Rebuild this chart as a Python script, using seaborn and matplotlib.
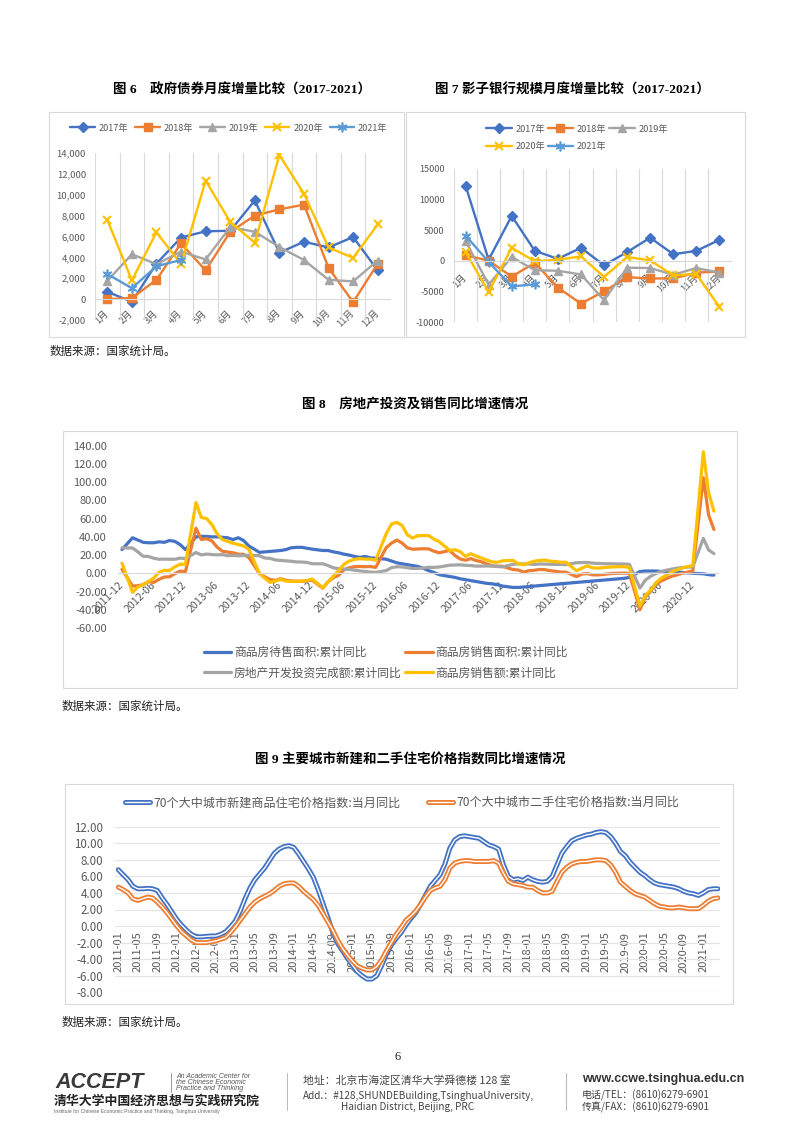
import numpy as np
import pandas as pd
import matplotlib
matplotlib.use('Agg')
import matplotlib.pyplot as plt
import matplotlib.patheffects as pe
from matplotlib.patches import Rectangle
from matplotlib.lines import Line2D
import seaborn as sns

# ---------------------------------------------------------------- data
MONTH_LABELS = ['1月', '2月', '3月', '4月', '5月', '6月', '7月', '8月', '9月', '10月', '11月', '12月']
YEAR_LABELS = ['2017年', '2018年', '2019年', '2020年', '2021年']

# Fig 6: government bonds monthly increment
bond_2017 = [700, -250, 3400, 5900, 6500, 6550, 9450, 4450, 5500, 4950, 5950, 2750]
bond_2018 = [0, 100, 1850, 5350, 2750, 6450, 8000, 8600, 9050, 3000, -300, 3400]
bond_2019 = [1750, 4300, 3350, 4550, 3800, 6900, 6450, 5000, 3750, 1850, 1700, 3700]
bond_2020 = [7600, 1800, 6400, 3350, 11350, 7400, 5400, 13800, 10100, 4950, 3950, 7150]
bond_2021 = [2400, 1050, 3150, 3750]

# Fig 7: shadow banking monthly increment
shadow_2017 = [12300, 200, 7350, 1650, 350, 2150, -700, 1450, 3800, 1100, 1650, 3450]
shadow_2018 = [950, 50, -2550, -300, -4350, -6950, -4950, -2650, -2850, -2850, -1900, -1700]
shadow_2019 = [3250, -3850, 650, -1500, -1600, -2200, -6400, -1100, -1150, -2250, -1150, -1900]
shadow_2020 = [1450, -5050, 2150, -50, 200, 750, -2600, 650, 100, -2350, -2150, -7500]
shadow_2021 = [4150, -150, -4150, -3800]

# Fig 8: real estate (cumulative YoY, %), months Feb-Dec each year
fig8_dates = (['2011-12'] + [f'{y}-{m:02d}' for y in range(2012, 2021) for m in range(2, 13)]
              + ['2021-02', '2021-03', '2021-04'])
unsold_area = [26,
    39, 36.5, 34, 33.5, 33.5, 34.5, 34, 36, 35, 31.5, 26,
    40, 40.5, 40.5, 40, 40, 39.5, 39, 37, 39, 36, 30,
    23, 23.5, 24, 24.5, 25, 26, 28, 28.5, 28.5, 27.5, 26.5,
    25, 25, 23.5, 22.5, 21, 20, 18.5, 17.5, 18.5, 17, 16.5,
    15.5, 13.5, 11.5, 10.5, 9.5, 8.5, 7.5, 5.5, 3, 1, -1.5,
    -3.5, -4.5, -6, -7, -8, -9, -10, -11, -11.5, -12.5, -14,
    -15.5, -15.5, -15, -14.5, -14, -13.5, -13, -12.5, -12, -11.5, -11,
    -10, -9.5, -9, -8.5, -8, -7.5, -7, -6.5, -6, -5.5, -4.5,
    2, 2.5, 2.5, 2.5, 2, 2, 1.5, 1.5, 1, 0.5, 0,
    -0.5, -1.5, -2]
sold_area = [4.4,
    -14.0, -13.6, -12.5, -9.2, -10.0, -6.6, -4.1, -3.8, -0.4, 2.4, 1.8,
    49.5, 37.1, 38.0, 35.6, 28.7, 24.2, 23.3, 22.6, 20.9, 20.8, 17.3,
    -0.1, -3.8, -6.8, -7.8, -6.0, -7.6, -8.3, -8.6, -8.9, -8.2, -7.6,
    -16.3, -9.2, -4.8, -2.1, 3.9, 6.1, 7.2, 7.5, 7.2, 7.4, 6.5,
    28.2, 33.1, 36.5, 33.2, 27.9, 26.4, 26.7, 26.9, 26.8, 24.3, 22.5,
    25.1, 19.5, 15.7, 14.3, 16.1, 14.0, 12.7, 10.3, 8.2, 7.9, 7.7,
    4.1, 3.6, 1.3, 2.9, 3.3, 4.2, 4.0, 2.9, 2.2, 1.4, 1.3,
    -3.6, -0.9, -0.3, -1.6, -1.8, -1.3, -0.6, -0.1, 0.1, 0.2, -0.1,
    -39.9, -26.3, -19.3, -12.3, -8.4, -5.8, -3.3, -1.8, 0.0, 1.3, 2.6,
    104.9, 63.8, 48.1]
dev_invest = [27.9,
    27.8, 23.5, 18.7, 18.5, 16.6, 15.4, 15.6, 15.4, 15.4, 16.7, 16.2,
    22.8, 20.2, 21.1, 20.6, 20.3, 20.5, 19.3, 19.7, 19.2, 19.5, 19.8,
    19.3, 16.8, 16.4, 14.7, 14.1, 13.7, 13.2, 12.5, 12.4, 11.9, 10.5,
    10.4, 8.5, 6.0, 5.1, 4.6, 4.3, 3.5, 2.6, 2.0, 1.3, 1.0,
    3.0, 6.2, 7.2, 7.0, 6.1, 5.3, 5.4, 5.8, 6.6, 6.5, 6.9,
    8.9, 9.1, 9.3, 8.8, 8.5, 7.9, 7.9, 8.1, 7.8, 7.5, 7.0,
    9.9, 10.4, 10.3, 10.2, 9.7, 10.2, 10.1, 9.9, 9.7, 9.7, 9.5,
    11.6, 11.8, 11.9, 11.2, 10.9, 10.6, 10.5, 10.5, 10.3, 10.2, 9.9,
    -16.3, -7.7, -3.3, -0.3, 1.9, 3.4, 4.6, 5.6, 6.3, 6.8, 7.0,
    38.3, 25.6, 21.6]
sales_value = [11.1,
    -20.9, -15.0, -12.6, -8.9, -5.2, 1.0, 3.3, 3.1, 7.1, 9.9, 10.0,
    77.6, 61.3, 60.1, 53.5, 43.2, 37.0, 35.0, 33.1, 31.5, 30.0, 26.3,
    -0.1, -5.2, -9.9, -8.5, -6.7, -8.5, -8.9, -8.9, -8.4, -7.8, -6.3,
    -15.8, -9.3, -3.1, 3.2, 10.0, 13.4, 15.3, 16.1, 15.6, 15.6, 14.4,
    43.6, 54.1, 55.9, 52.5, 42.1, 38.7, 41.3, 41.3, 41.5, 37.5, 34.8,
    25.1, 25.9, 23.7, 18.6, 21.5, 18.9, 16.8, 14.6, 12.6, 12.1, 13.7,
    14.2, 10.4, 9.3, 11.6, 13.2, 14.1, 14.5, 13.3, 13.0, 12.1, 12.2,
    2.8, 5.6, 8.1, 6.1, 5.6, 6.2, 6.7, 7.1, 7.3, 7.3, 6.5,
    -35.9, -24.7, -18.6, -10.6, -5.4, -2.1, 1.6, 3.7, 5.8, 7.2, 8.7,
    133.4, 88.5, 68.2]
fig8_series_labels = ['商品房待售面积:累计同比', '商品房销售面积:累计同比',
                      '房地产开发投资完成额:累计同比', '商品房销售额:累计同比']
fig8_ticklabels = ['2011-12', '2012-06', '2012-12', '2013-06', '2013-12', '2014-06', '2014-12',
                   '2015-06', '2015-12', '2016-06', '2016-12', '2017-06', '2017-12', '2018-06',
                   '2018-12', '2019-06', '2019-12', '2020-06', '2020-12']

# Fig 9: 70-city price indices, YoY (%), 2011-01 .. 2021-04
fig9_dates = pd.date_range('2011-01-01', '2021-04-01', freq='MS')
new_home = [
    6.8, 6.2, 5.6, 4.8, 4.5, 4.5, 4.55, 4.5, 4.3, 3.4, 2.6, 1.7,
    0.8, 0.1, -0.5, -1.0, -1.3, -1.3, -1.25, -1.2, -1.2, -1.0, -0.7, -0.1,
    0.6, 1.8, 3.3, 4.6, 5.6, 6.3, 7.0, 7.9, 8.8, 9.3, 9.6, 9.7,
    9.5, 8.7, 7.8, 6.9, 5.9, 4.4, 2.7, 1.0, -0.8, -2.1, -3.0, -3.9,
    -4.7, -5.5, -6.0, -6.4, -6.4, -6.0, -4.8, -3.4, -2.3, -1.5, -0.8, 0.1,
    0.9, 1.6, 2.6, 3.7, 4.8, 5.5, 6.2, 7.5, 9.4, 10.4, 10.8, 10.9,
    10.8, 10.7, 10.6, 10.2, 9.8, 9.6, 9.3, 7.4, 6.0, 5.6, 5.7, 5.5,
    5.9, 5.6, 5.4, 5.3, 5.4, 6.0, 7.4, 8.8, 9.6, 10.3, 10.6, 10.8,
    11.0, 11.1, 11.3, 11.4, 11.3, 10.8, 10.0, 9.0, 8.5, 7.7, 7.1, 6.5,
    6.1, 5.6, 5.2, 5.0, 4.9, 4.8, 4.7, 4.5, 4.2, 4.0, 3.9, 3.7,
    4.0, 4.4, 4.5, 4.5]
second_home = [
    4.7, 4.4, 4.0, 3.3, 3.1, 3.3, 3.5, 3.4, 2.9, 2.3, 1.6, 0.8,
    0.0, -0.7, -1.2, -1.7, -2.0, -2.0, -2.0, -1.9, -1.8, -1.6, -1.4, -0.8,
    -0.1, 0.7, 1.5, 2.3, 2.9, 3.3, 3.6, 3.9, 4.3, 4.8, 5.1, 5.2,
    5.2, 4.8, 4.2, 3.7, 3.2, 2.5, 1.5, 0.5, -0.5, -1.7, -2.7, -3.5,
    -4.2, -4.8, -5.1, -5.3, -5.3, -4.9, -4.1, -3.0, -2.0, -1.0, -0.2, 0.7,
    1.2, 1.8, 2.6, 3.5, 4.3, 4.6, 4.8, 5.6, 7.0, 7.6, 7.8, 7.9,
    7.9, 7.8, 7.8, 7.8, 7.8, 7.9, 7.6, 6.4, 5.4, 5.1, 5.0, 4.9,
    4.7, 4.7, 4.3, 4.0, 4.0, 4.2, 5.4, 6.5, 7.1, 7.5, 7.7, 7.8,
    7.8, 7.9, 8.0, 8.0, 7.9, 7.4, 6.5, 5.3, 4.8, 4.3, 3.9, 3.7,
    3.5, 3.1, 2.7, 2.4, 2.3, 2.2, 2.2, 2.3, 2.2, 2.1, 2.1, 2.1,
    2.5, 3.0, 3.3, 3.4]
fig9_series_labels = ['70个大中城市新建商品住宅价格指数:当月同比', '70个大中城市二手住宅价格指数:当月同比']

# ---------------------------------------------------------------- style
sns.set_style('white')
plt.rcParams['font.family'] = ['Noto Sans CJK SC', 'DejaVu Sans']
plt.rcParams['axes.unicode_minus'] = False

BLUE, ORANGE, GRAY, YELLOW, LBLUE = '#4472C4', '#ED7D31', '#A5A5A5', '#FFC000', '#5B9BD5'
TICK_C = '#595959'
GRID_C = '#D9D9D9'
TITLE_FAM = ['Liberation Serif', 'Noto Sans CJK SC']

W, H = 802, 1133
fig = plt.figure(figsize=(W / 100, H / 100), dpi=100, facecolor='white')


def fx(x):
    return x / W


def fy(y):
    return 1 - y / H


def add_ax(x0, y0, x1, y1):
    ax = fig.add_axes([fx(x0), fy(y1), (x1 - x0) / W, (y1 - y0) / H])
    ax.set_facecolor('none')
    return ax


def box(x0, y0, x1, y1):
    fig.add_artist(Rectangle((fx(x0), fy(y1)), (x1 - x0) / W, (y1 - y0) / H,
                             transform=fig.transFigure, fill=False, ec=GRID_C, lw=0.8))


def drop_legend(ax):
    if ax.get_legend() is not None:
        ax.get_legend().remove()


def style_month_axes(ax, ylim, yticks, ylabels, ysize, xsize, xpad, ypad):
    ax.set_xlim(-0.5, 11.5)
    ax.set_ylim(*ylim)
    for s in ['left', 'right', 'top']:
        ax.spines[s].set_visible(False)
    ax.spines['bottom'].set_position(('data', 0))
    ax.spines['bottom'].set_color(GRID_C)
    ax.spines['bottom'].set_linewidth(0.8)
    ax.set_xticks(range(12))
    ax.set_xticklabels(MONTH_LABELS, rotation=45, ha='right', va='center',
                       rotation_mode='anchor', fontsize=xsize, color=TICK_C)
    ax.set_xticks(np.arange(-0.5, 12, 1), minor=True)
    ax.grid(which='minor', axis='x', color=GRID_C, lw=0.8)
    ax.tick_params(axis='x', which='both', length=0, pad=xpad)
    ax.set_yticks(yticks)
    ax.set_yticklabels(ylabels, fontsize=ysize, color=TICK_C)
    ax.tick_params(axis='y', length=0, pad=ypad)
    ax.set_xlabel('')
    ax.set_ylabel('')


marker_styles = [
    dict(color=BLUE, marker='D', ms=5, mec=BLUE, mew=1),
    dict(color=ORANGE, marker='s', ms=6, mec=ORANGE, mew=1),
    dict(color=GRAY, marker='^', ms=6, mec=GRAY, mew=1),
    dict(color=YELLOW, marker='x', ms=6, mec=YELLOW, mew=1.5),
    dict(color=LBLUE, marker=(6, 2, 0), ms=7, mec=LBLUE, mew=1.2),
]

# ---------------------------------------------------------------- titles
fig.text(fx(242), fy(90), '图 6　政府债券月度增量比较（2017-2021）', family=TITLE_FAM,
         weight='bold', fontsize=9.7, ha='center', va='center', color='black')
fig.text(fx(572), fy(90), '图 7 影子银行规模月度增量比较（2017-2021）', family=TITLE_FAM,
         weight='bold', fontsize=9.7, ha='center', va='center', color='black')
fig.text(fx(415), fy(404), '图 8　房地产投资及销售同比增速情况', family=TITLE_FAM,
         weight='bold', fontsize=9.7, ha='center', va='center', color='black')
fig.text(fx(410), fy(760), '图 9 主要城市新建和二手住宅价格指数同比增速情况', family=TITLE_FAM,
         weight='bold', fontsize=9.7, ha='center', va='center', color='black')

for (sx, sy) in [(50, 351), (62, 706), (62, 1022)]:
    fig.text(fx(sx), fy(sy), '数据来源：国家统计局。', fontsize=8.3, style='italic',
             color='#222222', ha='left', va='center')

# ---------------------------------------------------------------- Fig 6
box(49, 112, 404, 337)
ax6 = add_ax(95, 153, 390, 320)
for vals, lab, st in zip([bond_2017, bond_2018, bond_2019, bond_2020, bond_2021], YEAR_LABELS, marker_styles):
    sns.lineplot(x=np.arange(len(vals)), y=vals, ax=ax6, lw=1.7, label=lab, **st)
drop_legend(ax6)
yt6 = list(range(-2000, 14001, 2000))
style_month_axes(ax6, (-2000, 14000), yt6, [f'{v:,}' for v in yt6], 6.8, 6.8, 9, 6.5)
h6, l6 = ax6.get_legend_handles_labels()
fig.legend(h6, l6, loc='center', bbox_to_anchor=(fx(229), fy(128)), ncol=5, frameon=False,
           fontsize=6.6, handlelength=2.7, handletextpad=0.4, columnspacing=0.75,
           labelcolor=TICK_C, borderpad=0)

# ---------------------------------------------------------------- Fig 7
box(406, 112, 745, 337)
ax7 = add_ax(454, 169, 731, 322.3)
for vals, lab, st in zip([shadow_2017, shadow_2018, shadow_2019, shadow_2020, shadow_2021], YEAR_LABELS, marker_styles):
    sns.lineplot(x=np.arange(len(vals)), y=vals, ax=ax7, lw=1.7, label=lab, **st)
drop_legend(ax7)
yt7 = list(range(-10000, 15001, 5000))
style_month_axes(ax7, (-10000, 15000), yt7, [str(v) for v in yt7], 6.6, 6.8, 11, 7)
h7, l7 = ax7.get_legend_handles_labels()
order7 = [0, 3, 1, 4, 2]
fig.legend([h7[i] for i in order7], [l7[i] for i in order7], loc='center',
           bbox_to_anchor=(fx(577), fy(138)), ncol=3, frameon=False, fontsize=6.6,
           handlelength=2.8, handletextpad=0.4, columnspacing=0.3, labelspacing=0.95,
           labelcolor=TICK_C, borderpad=0)

# ---------------------------------------------------------------- Fig 8
def month_offset(s, origin):
    y, m = map(int, s.split('-'))
    oy, om = map(int, origin.split('-'))
    return (y - oy) * 12 + (m - om)


t8 = np.array([month_offset(d, fig8_dates[0]) for d in fig8_dates])
box(63, 431, 737, 688)
ax8 = add_ax(118, 445.7, 718, 628)
for vals, lab, col in zip([unsold_area, sold_area, dev_invest, sales_value], fig8_series_labels,
                          [BLUE, ORANGE, GRAY, YELLOW]):
    sns.lineplot(x=t8, y=vals, ax=ax8, color=col, lw=2.3, label=lab)
drop_legend(ax8)
ax8.set_xlim((118 - 122) / 5.285, (718 - 122) / 5.285)
ax8.set_ylim(-60, 140)
for s in ['left', 'right', 'top']:
    ax8.spines[s].set_visible(False)
ax8.spines['bottom'].set_position(('data', 0))
ax8.spines['bottom'].set_color(GRID_C)
ax8.spines['bottom'].set_linewidth(0.9)
ax8.set_xticks([month_offset(s, fig8_dates[0]) for s in fig8_ticklabels])
ax8.set_xticklabels(fig8_ticklabels, rotation=45, ha='right', va='center',
                    rotation_mode='anchor', fontsize=7.6, color=TICK_C)
ax8.tick_params(axis='x', length=0, pad=7)
yt8 = list(range(-60, 141, 20))
ax8.set_yticks(yt8)
ax8.set_yticklabels([f'{v:.2f}' for v in yt8], fontsize=8, color=TICK_C)
ax8.tick_params(axis='y', length=0, pad=8)
ax8.set_xlabel('')
ax8.set_ylabel('')
h8, l8 = ax8.get_legend_handles_labels()
order8 = [0, 2, 1, 3]
fig.legend([h8[i] for i in order8], [l8[i] for i in order8], loc='center',
           bbox_to_anchor=(fx(386), fy(662.7)), ncol=2, frameon=False, fontsize=8.5,
           handlelength=2.3, handletextpad=0.25, columnspacing=0.3, labelspacing=0.65,
           labelcolor=TICK_C, borderpad=0)

# ---------------------------------------------------------------- Fig 9
m9 = np.array((fig9_dates.year - 2011) * 12 + fig9_dates.month - 1)
box(65, 784, 733, 1004)
ax9 = add_ax(115, 826.7, 720, 992.3)
h9 = []
for vals, lab, col in zip([new_home, second_home], fig9_series_labels, [BLUE, ORANGE]):
    effects = [pe.Stroke(linewidth=3.6, foreground=col), pe.Normal()]
    sns.lineplot(x=m9, y=vals, ax=ax9, color='white', lw=1.0, path_effects=effects)
    h9.append(Line2D([], [], color='white', lw=1.0, path_effects=effects))
drop_legend(ax9)
ax9.set_xlim((115 - 118.3) / 4.875, (720 - 118.3) / 4.875)
ax9.set_ylim(-8, 12)
for s in ['left', 'right', 'top', 'bottom']:
    ax9.spines[s].set_visible(False)
ax9.spines['bottom'].set_position(('data', 0))
yt9 = list(range(-8, 13, 2))
ax9.set_yticks(yt9)
ax9.set_yticklabels([f'{v:.2f}' for v in yt9], fontsize=8.3, color=TICK_C)
ax9.yaxis.grid(True, color='#E4E4E4', lw=0.8)
ax9.set_axisbelow(True)
ax9.tick_params(axis='y', length=0, pad=8.4)
ax9.set_xticks(m9[::4])
ax9.set_xticklabels(fig9_dates[::4].strftime('%Y-%m'), rotation=90, ha='right', va='center',
                    rotation_mode='anchor', fontsize=8, color=TICK_C)
ax9.tick_params(axis='x', length=0, pad=4)
ax9.set_xlabel('')
ax9.set_ylabel('')
fig.legend(h9, fig9_series_labels, loc='center', bbox_to_anchor=(fx(402), fy(802.7)), ncol=2,
           frameon=False, fontsize=8.7, handlelength=2.1, handletextpad=0.25,
           columnspacing=2.3, labelcolor=TICK_C, borderpad=0)

# ---------------------------------------------------------------- footer
fig.text(fx(398), fy(1057), '6', fontsize=9, family='Liberation Serif', ha='center', va='center')
fig.text(fx(55), fy(1082), 'ACCEPT', family='Liberation Sans', weight='bold', style='italic',
         fontsize=15.5, color='#3a3a3a', ha='left', va='center')
fig.add_artist(Line2D([fx(171), fx(171)], [fy(1073), fy(1092)], color='#888888', lw=0.6))
for i, s in enumerate(['An Academic Center for', 'the Chinese Economic', 'Practice and Thinking']):
    fig.text(fx(176), fy(1076 + 6.3 * i), s, family='Liberation Sans', style='italic',
             fontsize=5, color='#555555', ha='left', va='center')
fig.text(fx(54), fy(1101), '清华大学中国经济思想与实践研究院', fontsize=9.3, weight='bold',
         color='#222222', ha='left', va='center')
fig.text(fx(54), fy(1111), 'Institute for Chinese Economic Practice and Thinking, Tsinghua University',
         family='Liberation Sans', fontsize=3.6, color='#666666', ha='left', va='center')
for sx in [287, 566]:
    fig.add_artist(Line2D([fx(sx), fx(sx)], [fy(1073), fy(1110)], color='#BBBBBB', lw=0.8))
fig.text(fx(303), fy(1080), '地址：北京市海淀区清华大学舜德楼 128 室', fontsize=7.8,
         color='#444444', ha='left', va='center')
fig.text(fx(303), fy(1096), 'Add.：#128,SHUNDEBuilding,TsinghuaUniversity,', fontsize=7.2,
         color='#444444', ha='left', va='center')
fig.text(fx(341), fy(1107), 'Haidian District, Beijing, PRC', fontsize=7.2,
         color='#444444', ha='left', va='center')
fig.text(fx(582), fy(1079), 'www.ccwe.tsinghua.edu.cn', family='Liberation Sans', weight='bold',
         fontsize=9, color='#333333', ha='left', va='center')
fig.text(fx(582), fy(1095), '电话/TEL：(8610)6279-6901', fontsize=7.2, color='#444444',
         ha='left', va='center')
fig.text(fx(582), fy(1107), '传真/FAX：(8610)6279-6901', fontsize=7.2, color='#444444',
         ha='left', va='center')

fig.savefig('out.png', dpi=100, facecolor='white')
